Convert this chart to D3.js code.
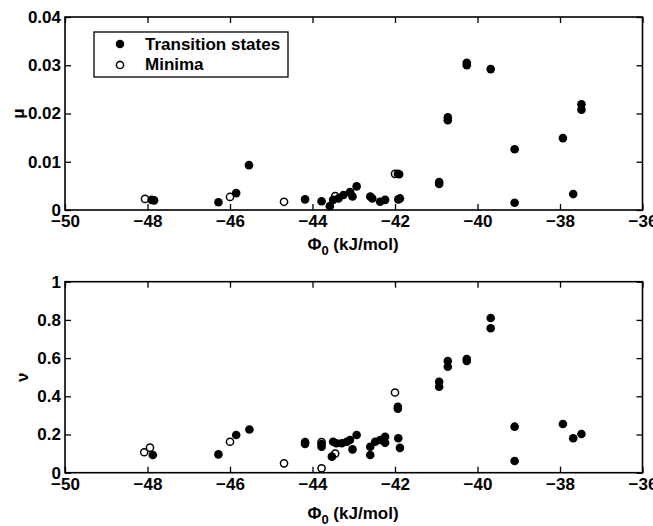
<!DOCTYPE html>
<html><head><meta charset="utf-8">
<script src="https://cdn.jsdelivr.net/npm/d3@7"></script>
<style>body{margin:0;background:#fff}svg{display:block}text{font-family:"Liberation Sans",Arial,sans-serif}</style>
</head><body>
<svg id="c" width="653" height="526"></svg>
<script>
// ---- data ----
const xTicks = [-50,-48,-46,-44,-42,-40,-38,-36];
const muTicks = [0,0.01,0.02,0.03,0.04];
const nuTicks = [0,0.2,0.4,0.6,0.8,1];
const legendLabels = ["Transition states","Minima"];

// top panel (mu): [Phi0, mu]
const tsMu = [[-47.9,0.0021],[-47.84,0.0020],[-46.28,0.0016],[-45.85,0.0035],[-45.54,0.0093],
 [-44.18,0.0022],[-43.78,0.0018],[-43.58,0.0008],[-43.5,0.0021],[-43.37,0.0024],[-43.25,0.0031],
 [-43.09,0.0037],[-43.03,0.0028],[-42.93,0.0049],[-42.6,0.0028],[-42.55,0.0024],[-42.36,0.0017],
 [-42.24,0.0021],[-41.93,0.0075],[-41.9,0.0074],[-41.92,0.0022],[-41.88,0.0024],[-40.93,0.0058],
 [-40.93,0.0054],[-40.72,0.0192],[-40.72,0.0186],[-40.26,0.0305],[-40.26,0.0300],[-39.68,0.0292],
 [-39.1,0.0126],[-39.1,0.0015],[-37.93,0.0149],[-37.68,0.0033],[-37.48,0.0219],[-37.48,0.0208]];
const minMu = [[-48.06,0.0023],[-46.0,0.0027],[-44.69,0.0017],[-43.45,0.0029],[-42.0,0.0075]];

// bottom panel (nu): [Phi0, nu]
const tsNu = [[-47.87,0.093],[-46.28,0.096],[-45.85,0.197],[-45.53,0.226],[-44.18,0.16],[-44.18,0.15],
 [-43.78,0.15],[-43.78,0.136],[-43.53,0.084],[-43.5,0.162],[-43.42,0.154],[-43.29,0.154],[-43.17,0.162],
 [-43.09,0.171],[-43.03,0.122],[-42.93,0.197],[-42.6,0.136],[-42.6,0.093],[-42.48,0.162],[-42.36,0.171],
 [-42.24,0.188],[-42.24,0.157],[-41.92,0.18],[-41.88,0.13],[-41.93,0.345],[-41.93,0.335],[-40.93,0.476],
 [-40.93,0.450],[-40.72,0.585],[-40.72,0.555],[-40.26,0.595],[-40.26,0.585],[-39.68,0.81],[-39.68,0.756],
 [-39.1,0.241],[-39.1,0.061],[-37.93,0.255],[-37.68,0.18],[-37.48,0.203]];
const minNu = [[-48.08,0.107],[-47.94,0.131],[-46.0,0.162],[-44.69,0.049],[-43.78,0.16],[-43.78,0.023],
 [-43.45,0.10],[-42.0,0.42]];

// ---- drawing ----
const svg = d3.select("#c");
const L = 65, R = 642.5;
const x = d3.scaleLinear().domain([-50,-36]).range([L,R]);
const fmtX = d3.format("d");
const FS = 17;

function panel(yDom, yTicks, top, bottom, ts, mins, ylab, ylabX, xlabY) {
  const y = d3.scaleLinear().domain(yDom).range([bottom, top]);
  const g = svg.append("g");
  const fmtY = v => v === 0 ? "0" : String(+v.toFixed(3));
  const ab = g.append("g").attr("transform",`translate(0,${bottom})`)
    .call(d3.axisBottom(x).tickValues(xTicks).tickSize(-6).tickPadding(3).tickFormat(fmtX));
  const at = g.append("g").attr("transform",`translate(0,${top})`)
    .call(d3.axisTop(x).tickValues(xTicks).tickSize(-6).tickFormat(""));
  const al = g.append("g").attr("transform",`translate(${L},0)`)
    .call(d3.axisLeft(y).tickValues(yTicks).tickSize(-6).tickPadding(4).tickFormat(fmtY));
  const ar = g.append("g").attr("transform",`translate(${R},0)`)
    .call(d3.axisRight(y).tickValues(yTicks).tickSize(-6).tickFormat(""));
  [ab,at,al,ar].forEach(a=>{
    a.select(".domain").remove();
    a.selectAll("line").attr("stroke","#000").attr("stroke-width",1.3);
    a.selectAll("text").attr("fill","#000").attr("font-size",FS).attr("font-weight","bold")
      .attr("font-family",'"Liberation Sans",Arial,sans-serif');
  });
  ab.selectAll("text").attr("dy","0.85em");
  g.append("rect").attr("x",L).attr("y",top).attr("width",R-L).attr("height",bottom-top)
    .attr("fill","none").attr("stroke","#000").attr("stroke-width",1.6);
  g.append("g").selectAll("circle").data(mins).join("circle")
    .attr("cx",d=>x(d[0])).attr("cy",d=>y(d[1])).attr("r",3.6)
    .attr("fill","#fff").attr("stroke","#000").attr("stroke-width",1.5);
  g.append("g").selectAll("circle").data(ts).join("circle")
    .attr("cx",d=>x(d[0])).attr("cy",d=>y(d[1])).attr("r",4.3).attr("fill","#000");
  g.append("text").attr("transform",`translate(${ylabX},${(top+bottom)/2}) rotate(-90)`)
    .attr("text-anchor","middle").attr("font-size",FS).attr("font-weight","bold").text(ylab);
  const xl = g.append("text").attr("x",353).attr("y",xlabY).attr("text-anchor","middle")
    .attr("font-size",FS).attr("font-weight","bold");
  xl.append("tspan").text("Φ");
  xl.append("tspan").attr("font-size",13).attr("dy",5).text("0");
  xl.append("tspan").attr("dy",-5).text(" (kJ/mol)");
  return {g,y};
}

panel([0,0.04], muTicks, 17, 210, tsMu, minMu, "μ", 24, 250);
panel([0,1], nuTicks, 281.7, 472.7, tsNu, minNu, "ν", 28, 519);

// legend
const lg = svg.append("g");
lg.append("rect").attr("x",94).attr("y",32).attr("width",194).attr("height",45)
  .attr("fill","#fff").attr("stroke","#000").attr("stroke-width",1.3);
lg.append("circle").attr("cx",120).attr("cy",44).attr("r",4.3).attr("fill","#000");
lg.append("circle").attr("cx",120).attr("cy",65).attr("r",3.6).attr("fill","#fff").attr("stroke","#000").attr("stroke-width",1.5);
lg.selectAll("text.l").data(legendLabels).join("text").attr("class","l")
  .attr("x",145).attr("y",(d,i)=>50+i*20).attr("font-size",17).attr("font-weight","bold").text(d=>d);
</script>
</body></html>
